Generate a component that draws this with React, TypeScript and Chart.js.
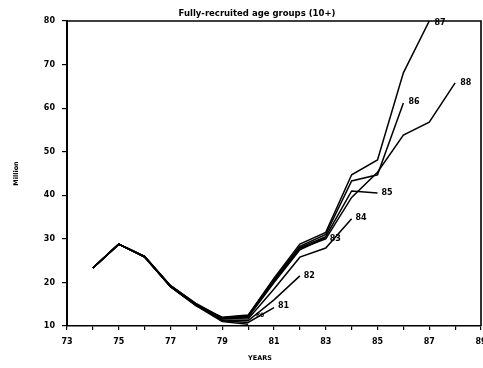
import React, { useEffect, useRef } from 'react';
import { Chart, registerables } from 'chart.js';

Chart.register(...registerables);

// First year of every series; each series runs one value per year from here.
const startYear = 74;

// Stock estimates (millions) of fully-recruited age groups (10+),
// one series per assessment year, each ending in its own year.
const s80 = [23.3, 28.8, 25.9, 19.0, 14.6, 11.0, 10.4];
const s81 = [23.3, 28.8, 25.9, 19.1, 14.8, 11.2, 10.8, 14.2];
const s82 = [23.3, 28.8, 25.8, 19.2, 15.0, 11.4, 11.2, 16.0, 21.5];
const s83 = [23.3, 28.8, 25.9, 19.0, 14.7, 11.6, 12.0, 20.0, 27.5, 30.3];
const s84 = [23.3, 28.8, 26.0, 19.2, 14.9, 11.7, 11.6, 18.5, 25.8, 27.9, 34.6];
const s85 = [23.3, 28.8, 25.9, 19.1, 14.8, 11.8, 12.3, 20.5, 28.0, 30.5, 41.0, 40.5];
const s86 = [23.3, 28.8, 26.0, 19.3, 15.1, 11.9, 12.4, 20.7, 28.3, 31.0, 43.3, 44.7, 61.2];
const s87 = [23.3, 28.8, 25.8, 19.0, 14.6, 12.0, 12.5, 21.0, 28.8, 31.5, 44.7, 48.1, 68.1, 80.0];
const s88 = [23.3, 28.8, 25.9, 19.2, 15.0, 11.8, 12.2, 20.3, 27.8, 30.0, 39.5, 45.3, 53.8, 56.8, 65.8];

const seriesValues = [s80, s81, s82, s83, s84, s85, s86, s87, s88];
const seriesNames = ['80', '81', '82', '83', '84', '85', '86', '87', '88'];

// Where each assessment-year tag sits, in data units (year, millions).
const tagYears = [80.3, 81.15, 82.15, 83.15, 84.15, 85.15, 86.2, 87.2, 88.2];
const tagValues = [12.4, 14.6, 21.5, 30.0, 34.8, 40.5, 61.4, 79.5, 65.8];

// Axis ranges and tick labels.
const xMin = 73;
const xMax = 89;
const yMin = 10;
const yMax = 80;
const xTickLabels = ['73', '75', '77', '79', '81', '83', '85', '87', '89'];

const chartTitle = 'Fully-recruited age groups (10+)';
const xTitle = 'YEARS';
const yTitle = 'Million';

const FONT = "'DejaVu Sans', 'Liberation Sans', sans-serif";

const decorPlugin = {
  id: 'decor',
  afterDatasetsDraw(chart: any) {
    const { ctx, chartArea, scales } = chart;
    const xs = scales.x;
    const ys = scales.y;
    ctx.save();

    // frame: top and right edges of the plotting area
    ctx.strokeStyle = '#000';
    ctx.lineWidth = 1.6;
    ctx.beginPath();
    ctx.moveTo(chartArea.left, chartArea.top);
    ctx.lineTo(chartArea.right, chartArea.top);
    ctx.lineTo(chartArea.right, chartArea.bottom);
    ctx.stroke();

    // assessment-year tags at the end of each series
    ctx.fillStyle = '#000';
    ctx.textAlign = 'left';
    ctx.textBaseline = 'middle';
    seriesNames.forEach((name, i) => {
      const px = xs.getPixelForValue(tagYears[i]);
      const py = ys.getPixelForValue(tagValues[i]);
      ctx.font = i === 0 ? `bold 6px ${FONT}` : `bold 8px ${FONT}`;
      ctx.fillText(name, px, py);
    });

    // chart title
    ctx.font = `bold 8.5px ${FONT}`;
    ctx.textAlign = 'center';
    ctx.textBaseline = 'middle';
    ctx.fillText(chartTitle, 257, 14);

    // axis titles
    ctx.font = `bold 6.5px ${FONT}`;
    ctx.fillText(xTitle, 260, 358);
    ctx.translate(16, (chartArea.top + chartArea.bottom) / 2);
    ctx.rotate(-Math.PI / 2);
    ctx.fillText(yTitle, 0, 0);
    ctx.restore();
  },
};

export default function App() {
  const canvasRef = useRef<HTMLCanvasElement | null>(null);

  useEffect(() => {
    document.body.style.margin = '0';
    const canvas = canvasRef.current;
    if (!canvas) return;

    const datasets = seriesValues.map((vals, i) => ({
      label: seriesNames[i],
      data: vals.map((v, k) => ({ x: startYear + k, y: v })),
      borderColor: '#000',
      borderWidth: 1.5,
      pointRadius: 0,
      tension: 0,
      fill: false,
    }));

    const chart = new Chart(canvas, {
      type: 'line',
      data: { datasets },
      plugins: [decorPlugin],
      options: {
        animation: false,
        responsive: false,
        maintainAspectRatio: false,
        layout: { padding: { left: 0, right: 2, top: 21, bottom: 0 } },
        plugins: {
          legend: { display: false },
          tooltip: { enabled: false },
          title: { display: false },
        },
        scales: {
          x: {
            type: 'linear',
            min: xMin,
            max: xMax,
            border: { display: true, color: '#000', width: 1.6 },
            grid: {
              drawOnChartArea: false,
              drawTicks: true,
              tickLength: 4,
              color: '#000',
              lineWidth: 1.2,
            },
            ticks: {
              stepSize: 1,
              autoSkip: false,
              maxRotation: 0,
              padding: 7,
              color: '#000',
              font: { family: FONT, size: 8, weight: 'bold' },
              callback: (value: any) => {
                const label = String(value);
                return xTickLabels.includes(label) ? label : '';
              },
            },
            afterFit: (scale: any) => {
              scale.height = 42;
              scale.paddingLeft = 0;
              scale.paddingRight = 0;
            },
          },
          y: {
            type: 'linear',
            min: yMin,
            max: yMax,
            border: { display: true, color: '#000', width: 2 },
            grid: {
              drawOnChartArea: false,
              drawTicks: true,
              tickLength: 5,
              color: '#000',
              lineWidth: 1.2,
            },
            ticks: {
              stepSize: 10,
              padding: 7,
              color: '#000',
              font: { family: FONT, size: 8, weight: 'bold' },
            },
            afterFit: (scale: any) => {
              scale.width = 67;
              scale.paddingTop = 0;
              scale.paddingBottom = 0;
            },
          },
        },
      },
    });

    return () => chart.destroy();
  }, []);

  return (
    <div style={{ position: 'relative', width: 483, height: 368, background: '#fff' }}>
      <canvas ref={canvasRef} width={483} height={368} />
    </div>
  );
}
